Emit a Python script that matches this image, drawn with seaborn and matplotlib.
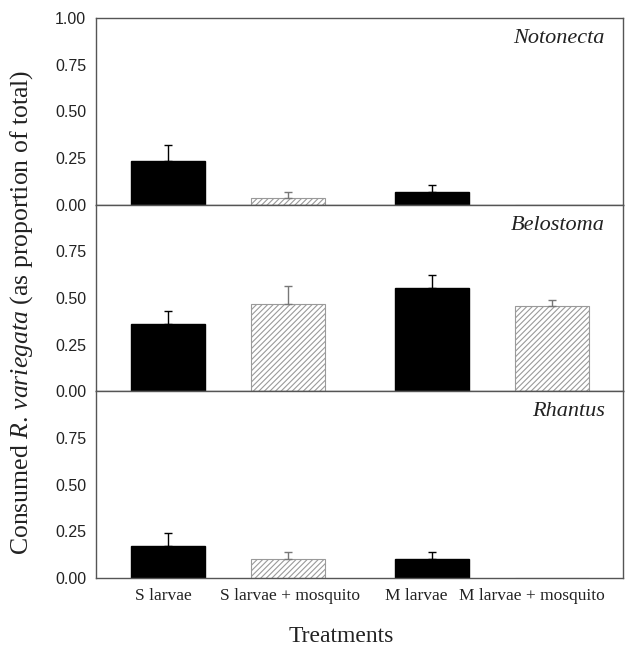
import matplotlib
matplotlib.use("Agg")
import matplotlib.pyplot as plt
import seaborn as sns
import pandas as pd
import numpy as np

# values
treatments = ["S larvae", "S larvae + mosquito", "M larvae", "M larvae + mosquito"]
kinds = ["larvae", "mosquito", "larvae", "mosquito"]
x_pos = [0.0, 1.0, 2.2, 3.2]
label_pos = [-0.04, 1.02, 2.07, 3.03]
predators = ["Notonecta", "Belostoma", "Rhantus"]
notonecta_mean = [0.232, 0.034, 0.066, 0.0]
notonecta_se = [0.087, 0.032, 0.042, 0.0]
belostoma_mean = [0.363, 0.466, 0.554, 0.457]
belostoma_se = [0.066, 0.099, 0.067, 0.032]
rhantus_mean = [0.171, 0.101, 0.100, 0.0]
rhantus_se = [0.072, 0.041, 0.042, 0.0]

means = [notonecta_mean, belostoma_mean, rhantus_mean]
ses = [notonecta_se, belostoma_se, rhantus_se]

sns.set_style("white")
plt.rcParams["font.family"] = ["Liberation Serif", "DejaVu Serif"]
plt.rcParams["mathtext.fontset"] = "custom"
plt.rcParams["mathtext.rm"] = "Liberation Serif"
plt.rcParams["mathtext.it"] = "Liberation Serif:italic"
plt.rcParams["hatch.color"] = "#9a9a9a"
plt.rcParams["hatch.linewidth"] = 0.8

fig, axes = plt.subplots(3, 1, figsize=(6.44, 6.47), dpi=100, sharex=True)
fig.subplots_adjust(left=0.149, right=0.967, top=0.972, bottom=0.1066, hspace=0)

spine_col = "#555555"
for i, ax in enumerate(axes):
    df = pd.DataFrame({"x": x_pos, "mean": means[i], "kind": kinds})
    sns.barplot(data=df, x="x", y="mean", hue="kind", native_scale=True,
                palette={"larvae": "black", "mosquito": "white"},
                dodge=False, width=0.61, legend=False, errorbar=None, ax=ax)
    for p in ax.patches:
        if p.get_facecolor()[0] > 0.5:
            p.set_hatch("//////")
            p.set_edgecolor("#9a9a9a")
            p.set_linewidth(0.8)
        else:
            p.set_edgecolor("black")
    m = np.array(means[i])
    s = np.array(ses[i])
    xs = np.array(x_pos)
    for k in range(len(xs)):
        if m[k] <= 0:
            continue
        col = "black" if kinds[k] == "larvae" else "#777777"
        ax.errorbar(xs[k], m[k], yerr=[[0], [s[k]]], fmt="none",
                    ecolor=col, elinewidth=1.0, capsize=3, capthick=1.0)
    ax.set_ylim(0, 1.0)
    ax.set_xlim(-0.6, 3.79)
    if i == 0:
        ax.set_yticks([0, 0.25, 0.5, 0.75, 1.0])
    else:
        ax.set_yticks([0, 0.25, 0.5, 0.75])
    ax.set_yticklabels([f"{t:.2f}" for t in ax.get_yticks()],
                       family="Liberation Sans", fontsize=11.5, color="#222222")
    ax.set_xlabel("")
    ax.set_ylabel("")
    for sp in ax.spines.values():
        sp.set_visible(True)
        sp.set_color(spine_col)
        sp.set_linewidth(1.0)
    ax.tick_params(axis="y", direction="out", length=3, color=spine_col, pad=4)
    ax.tick_params(axis="x", length=0, pad=7)
    ax.text(0.966, 0.89, predators[i], transform=ax.transAxes, ha="right",
            va="center", fontsize=16, style="italic", color="#222222")

axes[-1].set_xticks(label_pos)
axes[-1].set_xticklabels(treatments, fontsize=12.5, color="#222222")

fig.text(0.034, 0.518, r"Consumed $\mathit{R.}\,\mathit{variegata}$ (as proportion of total)",
         rotation=90, ha="center", va="center", fontsize=18.5, color="#222222")
fig.text(0.53, 0.0155, "Treatments", ha="center", va="center", fontsize=17, color="#222222")

plt.savefig("out.png", dpi=100)
plt.close()
